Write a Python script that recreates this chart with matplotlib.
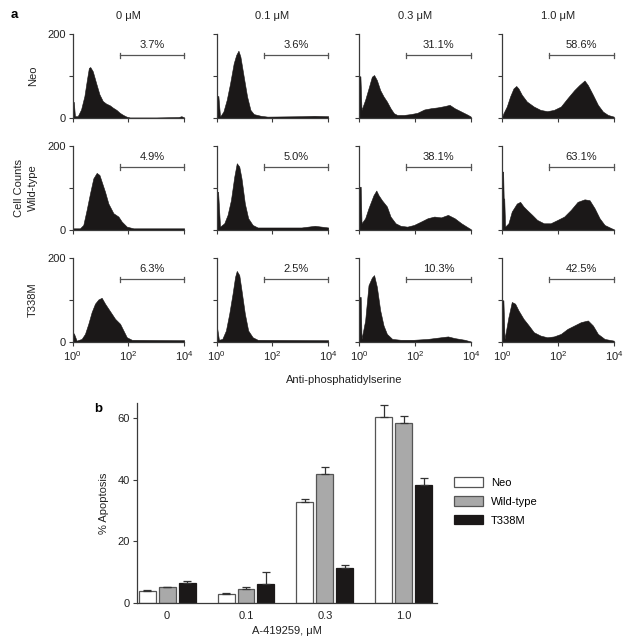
import numpy as np
import matplotlib
matplotlib.use("Agg")
import matplotlib.pyplot as plt
from matplotlib.patches import Patch

plt.rcParams['font.family'] = ['Liberation Sans', 'DejaVu Sans']
plt.rcParams['mathtext.fontset'] = 'custom'
plt.rcParams['mathtext.rm'] = 'Liberation Sans'
plt.rcParams['mathtext.it'] = 'Liberation Sans:italic'

# ---------------- data: panel a (flow histograms) ----------------
concentrations = ["0 \u03bcM", "0.1 \u03bcM", "0.3 \u03bcM", "1.0 \u03bcM"]
cell_lines = ["Neo", "Wild-type", "T338M"]
percent_labels = [["3.7%", "3.6%", "31.1%", "58.6%"],
                  ["4.9%", "5.0%", "38.1%", "63.1%"],
                  ["6.3%", "2.5%", "10.3%", "42.5%"]]

# log10 fluorescence positions and cell counts
neo_0_logx = [0.00, 0.04, 0.08, 0.18, 0.30, 0.42, 0.51, 0.58, 0.63, 0.72, 0.84, 0.96, 1.08, 1.20, 1.33, 1.45, 1.57, 1.69, 1.81, 1.93, 2.05, 3.00, 3.80, 3.90, 4.00]
neo_0_cnt = [39, 39, 5, 5, 21, 53, 92, 120, 122, 112, 84, 57, 41, 35, 31, 25, 20, 13, 8, 4, 2, 2, 3, 5, 2]
neo_01_logx = [0.00, 0.06, 0.12, 0.24, 0.36, 0.48, 0.61, 0.70, 0.78, 0.85, 0.97, 1.09, 1.21, 1.33, 1.58, 1.82, 3.03, 3.50, 4.00]
neo_01_cnt = [53, 53, 4, 16, 44, 83, 131, 151, 161, 147, 99, 52, 20, 10, 6, 4, 5, 6, 5]
neo_03_logx = [0.00, 0.04, 0.08, 0.21, 0.33, 0.45, 0.53, 0.63, 0.75, 0.87, 0.99, 1.12, 1.24, 1.36, 1.60, 1.84, 2.08, 2.33, 2.57, 2.81, 3.05, 3.24, 3.42, 3.66, 3.90, 4.00]
neo_03_cnt = [100, 100, 20, 44, 71, 99, 103, 91, 67, 52, 40, 24, 12, 8, 8, 10, 13, 21, 24, 26, 29, 32, 24, 16, 8, 4]
neo_10_logx = [0.00, 0.04, 0.16, 0.28, 0.40, 0.50, 0.58, 0.70, 0.88, 1.13, 1.37, 1.61, 1.85, 2.10, 2.34, 2.58, 2.76, 2.95, 3.07, 3.25, 3.43, 3.61, 3.79, 4.00]
neo_10_cnt = [5, 12, 28, 52, 71, 77, 71, 56, 40, 28, 20, 17, 20, 28, 48, 67, 79, 90, 79, 56, 32, 16, 8, 4]

wt_0_logx = [0.00, 0.26, 0.38, 0.50, 0.62, 0.74, 0.86, 0.96, 1.04, 1.16, 1.28, 1.46, 1.64, 1.76, 1.94, 2.18, 4.00]
wt_0_cnt = [4, 4, 12, 48, 87, 123, 136, 131, 115, 91, 63, 40, 32, 20, 8, 4, 4]
wt_01_logx = [0.00, 0.05, 0.12, 0.27, 0.39, 0.51, 0.63, 0.72, 0.81, 0.89, 1.01, 1.13, 1.29, 1.47, 1.83, 3.04, 3.52, 4.00]
wt_01_cnt = [91, 91, 8, 16, 36, 71, 127, 159, 151, 123, 63, 28, 12, 6, 6, 6, 10, 6]
wt_03_logx = [0.00, 0.05, 0.08, 0.21, 0.33, 0.51, 0.61, 0.69, 0.81, 0.99, 1.12, 1.30, 1.48, 1.72, 1.96, 2.21, 2.45, 2.69, 2.93, 3.18, 3.42, 3.66, 3.90, 4.00]
wt_03_cnt = [103, 103, 16, 28, 52, 83, 94, 83, 71, 56, 32, 16, 10, 8, 12, 20, 28, 32, 30, 36, 28, 16, 6, 2]
wt_10_logx = [0.00, 0.03, 0.05, 0.07, 0.10, 0.22, 0.34, 0.52, 0.64, 0.76, 0.88, 1.07, 1.25, 1.49, 1.73, 1.98, 2.22, 2.46, 2.70, 2.95, 3.13, 3.31, 3.49, 3.67, 3.92, 4.00]
wt_10_cnt = [139, 139, 75, 75, 8, 16, 44, 63, 67, 56, 48, 36, 24, 16, 16, 24, 32, 48, 67, 73, 71, 52, 28, 12, 4, 2]

mut_0_logx = [0.00, 0.05, 0.14, 0.32, 0.44, 0.56, 0.68, 0.80, 0.92, 1.04, 1.16, 1.28, 1.40, 1.52, 1.70, 1.82, 1.94, 2.12, 4.00]
mut_0_cnt = [24, 20, 4, 8, 20, 44, 72, 92, 102, 106, 92, 80, 68, 56, 44, 28, 12, 6, 5]
mut_01_logx = [0.00, 0.02, 0.08, 0.20, 0.33, 0.45, 0.57, 0.66, 0.72, 0.81, 0.89, 1.01, 1.13, 1.29, 1.47, 4.00]
mut_01_cnt = [32, 32, 6, 8, 28, 68, 116, 156, 170, 160, 124, 68, 28, 12, 6, 5]
mut_03_logx = [0.00, 0.05, 0.08, 0.21, 0.33, 0.45, 0.53, 0.63, 0.75, 0.87, 0.99, 1.18, 1.48, 1.96, 2.45, 2.93, 3.18, 3.42, 3.78, 4.00]
mut_03_cnt = [108, 108, 8, 52, 136, 154, 160, 132, 76, 40, 20, 8, 6, 6, 8, 12, 14, 10, 6, 2]
mut_10_logx = [0.00, 0.04, 0.08, 0.22, 0.34, 0.46, 0.58, 0.76, 0.95, 1.13, 1.37, 1.61, 1.85, 2.10, 2.34, 2.58, 2.82, 3.07, 3.25, 3.43, 3.67, 4.00]
mut_10_cnt = [100, 100, 8, 60, 96, 92, 76, 56, 40, 24, 16, 12, 14, 20, 32, 40, 48, 52, 40, 20, 8, 4]

hist_logx = [[neo_0_logx, neo_01_logx, neo_03_logx, neo_10_logx],
             [wt_0_logx, wt_01_logx, wt_03_logx, wt_10_logx],
             [mut_0_logx, mut_01_logx, mut_03_logx, mut_10_logx]]
hist_cnt = [[neo_0_cnt, neo_01_cnt, neo_03_cnt, neo_10_cnt],
            [wt_0_cnt, wt_01_cnt, wt_03_cnt, wt_10_cnt],
            [mut_0_cnt, mut_01_cnt, mut_03_cnt, mut_10_cnt]]
gate_start = 48
gate_end = 1e4

# ---------------- data: panel b (bar chart) ----------------
doses = ["0", "0.1", "0.3", "1.0"]
series = ["Neo", "Wild-type", "T338M"]
neo_mean = [3.9, 2.9, 32.7, 60.4]
neo_err = [0.2, 0.5, 1.1, 3.9]
wt_mean = [5.1, 4.5, 41.8, 58.4]
wt_err = [0.2, 0.6, 2.4, 2.3]
mut_mean = [6.6, 6.3, 11.5, 38.5]
mut_err = [0.5, 3.8, 0.8, 2.1]

W, H = 629, 642
fig = plt.figure(figsize=(W / 100, H / 100), dpi=100)

def fax(x0, y_top, x1, y_bot):
    return fig.add_axes([x0 / W, 1 - y_bot / H, (x1 - x0) / W, (y_bot - y_top) / H])

col_left = [72.7, 216.7, 359.3, 502.3]
col_w = 111.5
row_top = [34.3, 146.0, 258.3]
row_h = 84.0
spine_c = '#3a3a3a'
fill_c = '#1b1818'

for r in range(3):
    for c in range(4):
        ax = fax(col_left[c], row_top[r], col_left[c] + col_w, row_top[r] + row_h)
        lx = np.array(hist_logx[r][c])
        xs = 10 ** lx
        ax.fill_between(xs, 0, hist_cnt[r][c], color=fill_c, linewidth=0.4, edgecolor=fill_c)
        ax.set_xscale('log')
        ax.set_xlim(1, 1e4)
        ax.set_ylim(0, 200)
        for s in ['top', 'right']:
            ax.spines[s].set_visible(False)
        for s in ['left', 'bottom']:
            ax.spines[s].set_color(spine_c)
            ax.spines[s].set_linewidth(0.9)
        ax.set_xticks([1, 100, 1e4])
        ax.xaxis.set_minor_locator(matplotlib.ticker.NullLocator())
        ax.set_yticks([0, 100, 200])
        if c == 0:
            ax.set_yticklabels(["0", "", "200"])
        else:
            ax.set_yticklabels(["", "", ""])
        if r == 2:
            ax.set_xticklabels([r"$10^0$", r"$10^2$", r"$10^4$"])
        else:
            ax.set_xticklabels(["", "", ""])
        ax.tick_params(direction='out', length=3, width=0.8, color=spine_c,
                       labelsize=8, pad=2, labelcolor='#222222')
        # gate bracket
        yb = 150
        ax.plot([gate_start, gate_end], [yb, yb], color='#555555', lw=0.9, clip_on=False)
        ax.plot([gate_start, gate_start], [yb - 6, yb + 6], color='#555555', lw=0.9, clip_on=False)
        ax.plot([gate_end, gate_end], [yb - 6, yb + 6], color='#555555', lw=0.9, clip_on=False)
        ax.text(np.sqrt(gate_start * gate_end), yb + 12, percent_labels[r][c],
                ha='center', va='bottom', fontsize=8, color='#222222', clip_on=False)

for c in range(4):
    fig.text((col_left[c] + col_w / 2) / W, 1 - 16 / H, concentrations[c],
             ha='center', va='center', fontsize=8, color='#222222')

fig.text(14 / W, 1 - 15 / H, "a", fontsize=9.5, fontweight='bold', ha='center', va='center')
fig.text(33 / W, 1 - 76 / H, "Neo", rotation=90, ha='center', va='center', fontsize=8, color='#222222')
fig.text(33 / W, 1 - 188 / H, "Wild-type", rotation=90, ha='center', va='center', fontsize=8, color='#222222')
fig.text(19 / W, 1 - 188 / H, "Cell Counts", rotation=90, ha='center', va='center', fontsize=8, color='#222222')
fig.text(33 / W, 1 - 300 / H, "T338M", rotation=90, ha='center', va='center', fontsize=8, color='#222222')
fig.text(344 / W, 1 - 380 / H, "Anti-phosphatidylserine", ha='center', va='center', fontsize=8, color='#222222')

# ---------------- panel b ----------------
axb = fax(136.7, 403, 437, 603)
xg = np.arange(len(doses))
bw = 0.215
step = 0.253
colors = ['white', '#a9a9a9', '#1b1818']
edges = ['#555555', '#555555', '#1b1818']
means = [neo_mean, wt_mean, mut_mean]
errs = [neo_err, wt_err, mut_err]
for i in range(3):
    e = np.array(errs[i])
    axb.bar(xg + (i - 1) * step, means[i], width=bw, color=colors[i], edgecolor=edges[i],
            linewidth=0.9, label=series[i],
            yerr=[np.zeros_like(e), e], capsize=3.2,
            error_kw=dict(ecolor='#333333', elinewidth=0.9, capthick=0.9))
axb.set_xlim(-0.385, 3.42)
axb.set_ylim(0, 65)
axb.set_yticks([0, 20, 40, 60])
axb.set_xticks(xg)
axb.set_xticklabels(doses)
for s in ['top', 'right']:
    axb.spines[s].set_visible(False)
for s in ['left', 'bottom']:
    axb.spines[s].set_color(spine_c)
    axb.spines[s].set_linewidth(0.9)
axb.tick_params(axis='y', direction='out', length=3, width=0.8, color=spine_c, labelsize=8, pad=2, labelcolor='#222222')
axb.tick_params(axis='x', length=0, labelsize=8, pad=6, labelcolor='#222222')
axb.set_ylabel("% Apoptosis", fontsize=8, color='#222222', labelpad=6)
axb.set_xlabel("A-419259, \u03bcM", fontsize=8, color='#222222', labelpad=3)
fig.text(98 / W, 1 - 409 / H, "b", fontsize=9.5, fontweight='bold', ha='center', va='center')

handles = [Patch(facecolor=colors[i], edgecolor=edges[i], linewidth=0.9, label=series[i]) for i in range(3)]
fig.legend(handles=handles, loc='upper left', bbox_to_anchor=(454 / W, 1 - 477 / H),
           frameon=False, fontsize=8, handlelength=2.6, handleheight=0.95,
           labelspacing=0.75, handletextpad=0.7, borderpad=0, borderaxespad=0)

fig.savefig("out.png", dpi=100)
